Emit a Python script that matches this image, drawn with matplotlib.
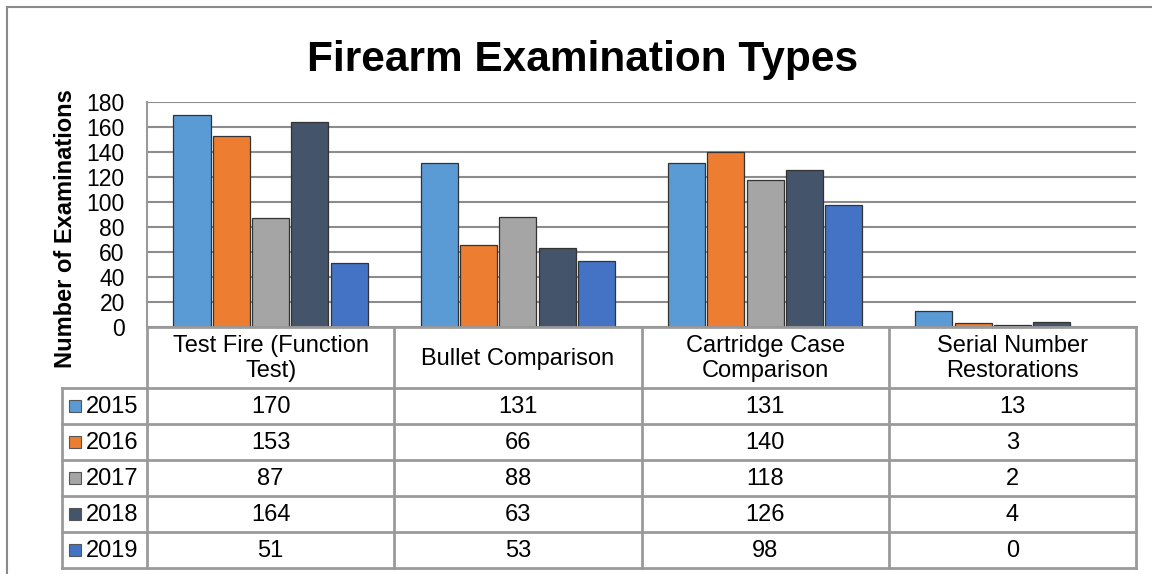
import numpy as np
import matplotlib.pyplot as plt

# ---------------------------------------------------------------
# Data
# ---------------------------------------------------------------
categories = ["Test Fire (Function\nTest)", "Bullet Comparison",
              "Cartridge Case\nComparison", "Serial Number\nRestorations"]
years = ["2015", "2016", "2017", "2018", "2019"]
values = {
    "2015": [170, 131, 131, 13],
    "2016": [153, 66, 140, 3],
    "2017": [87, 88, 118, 2],
    "2018": [164, 63, 126, 4],
    "2019": [51, 53, 98, 0],
}
colors = ["#5B9BD5", "#ED7D31", "#A5A5A5", "#44546A", "#4472C4"]
yticks = [0, 20, 40, 60, 80, 100, 120, 140, 160, 180]

plt.rcParams['font.family'] = ['Liberation Sans', 'DejaVu Sans']

W, H = 1152, 574
fig = plt.figure(figsize=(W / 100, H / 100), dpi=100)

# pixel layout
px_left, px_right = 147, 1136
px_top, px_bottom = 102, 327
head_bottom = 388
row_h = 36
leg_left = 62

def fr(x0, y0, x1, y1):
    return [x0 / W, 1 - y1 / H, (x1 - x0) / W, (y1 - y0) / H]

grid_col = "#8c8c8c"
line_col = "#9a9a9a"
fs = 17

# ---------------------------------------------------------------
# Bars
# ---------------------------------------------------------------
ax = fig.add_axes(fr(px_left, px_top, px_right, px_bottom))
step = 0.159
width = 0.15
x = np.arange(len(categories)) + 0.5
for j, yr in enumerate(years):
    ax.bar(x + (j - 2) * step, values[yr], width, color=colors[j],
           edgecolor="#333333", linewidth=0.9, zorder=3)
ax.set_xlim(0, len(categories))
ax.set_ylim(0, 180)
ax.set_yticks(yticks)
ax.set_yticklabels([str(v) for v in yticks], fontsize=16.5)
ax.tick_params(axis="y", length=0, pad=16)
ax.set_xticks([])
ax.grid(axis="y", color=grid_col, linewidth=1.5, zorder=0)
for s in ["top", "right", "bottom"]:
    ax.spines[s].set_visible(False)
ax.spines["left"].set_color(line_col)
ax.spines["left"].set_linewidth(1.5)
ax.set_ylabel("Number of Examinations", fontsize=fs, fontweight="bold")
ax.yaxis.set_label_coords(-0.071, 0.436)

# ---------------------------------------------------------------
# Data table (drawn in pixel coordinates)
# ---------------------------------------------------------------
tb = fig.add_axes([0, 0, 1, 1], zorder=5)
tb.set_xlim(0, W)
tb.set_ylim(H, 0)
tb.axis("off")
tb.patch.set_alpha(0)

col_w = (px_right - px_left) / len(categories)
col_edges = [px_left + i * col_w for i in range(len(categories) + 1)]
rows_y = [head_bottom + i * row_h for i in range(len(years) + 1)]

# vertical lines
for i, cx in enumerate(col_edges):
    tb.plot([cx, cx], [px_bottom, rows_y[-1]], color=line_col, lw=2)
tb.plot([leg_left, leg_left], [head_bottom, rows_y[-1]], color=line_col, lw=2)
# horizontal lines
tb.plot([px_left, px_right], [px_bottom, px_bottom], color=line_col, lw=2)
for ry in rows_y:
    tb.plot([leg_left, px_right], [ry, ry], color=line_col, lw=2)

# header text
for i, cat in enumerate(categories):
    tb.text(col_edges[i] + col_w / 2, (px_bottom + head_bottom) / 2 + 1, cat,
            ha="center", va="center", fontsize=fs, linespacing=1.15)

# rows
for j, yr in enumerate(years):
    cy = rows_y[j] + row_h / 2
    tb.add_patch(plt.Rectangle((69, cy - 6), 12, 12, facecolor=colors[j],
                               edgecolor="#555555", lw=0.8))
    tb.text(86, cy + 1, yr, ha="left", va="center", fontsize=fs)
    for i in range(len(categories)):
        tb.text(col_edges[i] + col_w / 2, cy + 1, str(values[yr][i]),
                ha="center", va="center", fontsize=fs)

# outer chart border
tb.plot([7, 7], [7, H], color="#8a8a8a", lw=1.5)
tb.plot([7, W], [7, 7], color="#8a8a8a", lw=1.5)

# title
tb.text(583, 60, "Firearm Examination Types", ha="center", va="center",
        fontsize=30.5, fontweight="bold")

fig.savefig("out.png", dpi=100)
